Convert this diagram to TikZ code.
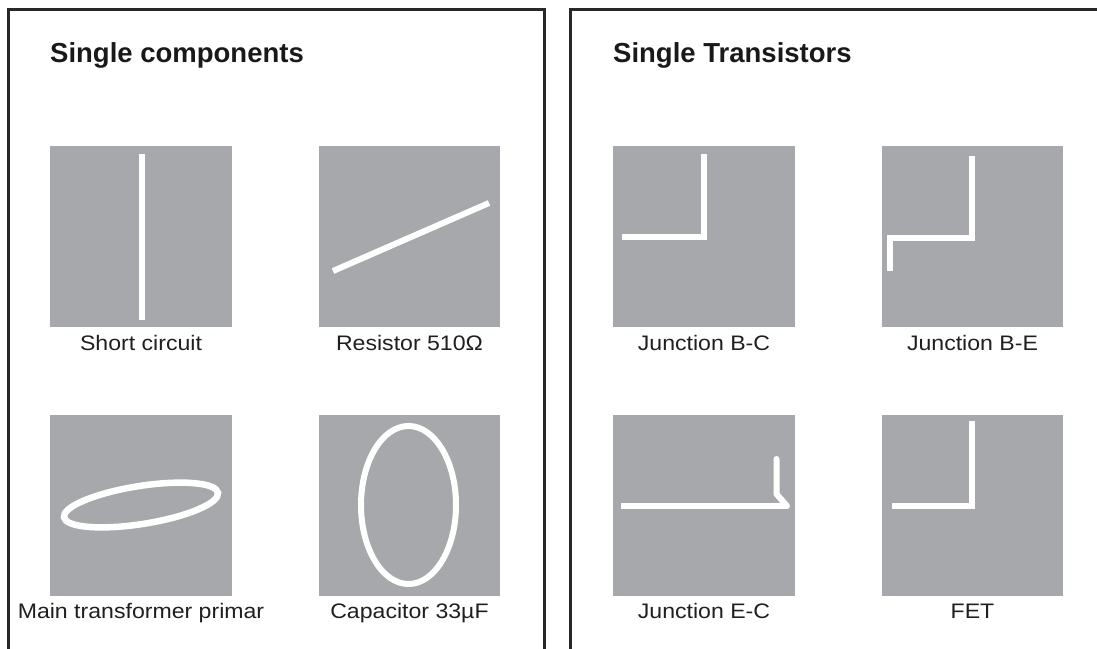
\documentclass[tikz,border=0pt]{standalone}
\usepackage{fontspec}
\setmainfont{Liberation Sans}
\newfontfamily\labelfont{Liberation Sans}[FakeStretch=1.1]
\newfontfamily\headfont{Liberation Sans}
\definecolor{panelgray}{RGB}{167,168,172}
\definecolor{framecol}{RGB}{40,40,40}
\begin{document}
\begin{tikzpicture}[x=1pt,y=-1pt,
  pad/.style={fill=panelgray,draw=none},
  trace/.style={draw=white,line width=6pt},
  panel/.style={draw=framecol,line width=3pt},
  caption/.style={anchor=base,inner sep=0pt,font=\labelfont\fontsize{21}{24}\selectfont,text=black!88},
  heading/.style={anchor=base west,inner sep=0pt,font=\headfont\bfseries\fontsize{27.5}{32}\selectfont,text=black!90}]
\useasboundingbox (0,0) rectangle (1097,648);
\begin{scope}
  \clip (0,0) rectangle (1097,648);
  \draw[panel] (8.7,9.2) rectangle (544.2,700);
  \draw[panel] (570.2,9.2) rectangle (1150,700);
\end{scope}
% headings
\node[heading] (h1) at (50,62) {Single components};
\node[heading] (h2) at (613,62) {Single Transistors};
% pads
\fill[pad] (50,146) rectangle (232,327);
\fill[pad] (319,146) rectangle (500,327);
\fill[pad] (50,415) rectangle (232,596);
\fill[pad] (319,415) rectangle (500,596);
\fill[pad] (613,146) rectangle (795,327);
\fill[pad] (882,146) rectangle (1063,327);
\fill[pad] (613,415) rectangle (795,596);
\fill[pad] (882,415) rectangle (1063,596);
% traces
\draw[trace] (141.5,154) -- (141.5,320);
\draw[trace] (333,271) -- (489,203);
\draw[trace,line width=6.5pt] (141,505) ellipse [x radius=78, y radius=19, rotate=9];
\draw[trace] (408.5,505) ellipse [x radius=47.5, y radius=79];
\draw[trace] (622,237) -- (704,237) -- (704,154);
\draw[trace] (972,156) -- (972,238) -- (890,238) -- (890,271);
\draw[trace] (621,506) -- (787,506);
\draw[trace,line join=round,line cap=round] (776.5,459) -- (776.5,494) -- (787,506);
\draw[trace] (892,506) -- (972,506) -- (972,421);
% captions
\node[caption] (c1) at (141,350) {Short circuit};
\node[caption] (c2) at (409.5,350) {Resistor 510Ω};
\node[caption] (c3) at (141,618) {Main transformer primar};
\node[caption] (c4) at (409.5,618) {Capacitor 33µF};
\node[caption] (c5) at (704,350) {Junction B-C};
\node[caption] (c6) at (972.5,350) {Junction B-E};
\node[caption] (c7) at (704,618) {Junction E-C};
\node[caption] (c8) at (972.5,618) {FET};
\end{tikzpicture}
\end{document}
